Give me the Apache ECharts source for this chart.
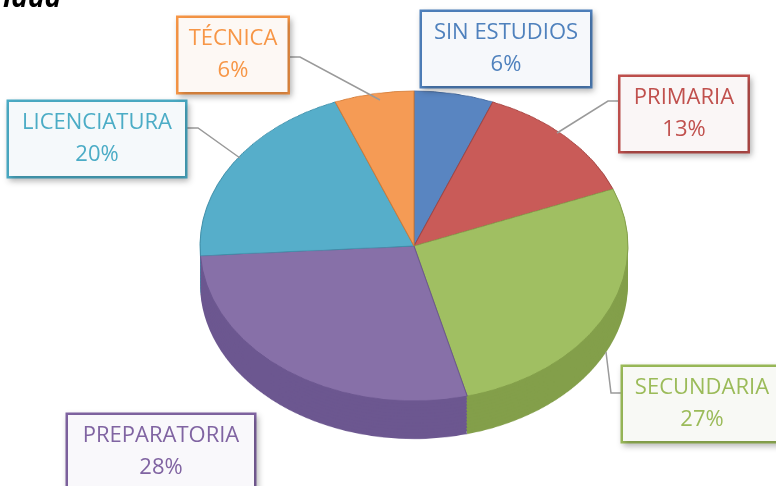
<!DOCTYPE html>
<html>
<head>
<meta charset="utf-8">
<script src="https://cdn.jsdelivr.net/npm/echarts@6/dist/echarts.min.js"></script>
<style>
  html, body { margin: 0; padding: 0; background: #fff; }
  #wrap { position: relative; width: 776px; height: 486px; overflow: hidden; }
  /* the pie is drawn round, then squashed to look tilted */
  #pie { position: absolute; left: 0; top: 0; width: 776px; height: 671px;
         transform-origin: 0 0; transform: scaleY(0.724); }
  #labels { position: absolute; left: 0; top: 0; width: 776px; height: 486px; }
</style>
</head>
<body>
<div id="wrap"><div id="pie"></div><div id="labels"></div></div>
<script>
const categories = ['SIN ESTUDIOS', 'PRIMARIA', 'SECUNDARIA', 'PREPARATORIA', 'LICENCIATURA', 'TÉCNICA'];
const percents = [6, 13, 27, 28, 20, 6];

const topColors = ['#5985c1', '#c95b58', '#a0bf62', '#8770a8', '#56aeca', '#f59b55'];
const sideColors = ['#43679c', '#a34542', '#839f4a', '#6c5790', '#3f8ea8', '#d27a35'];
const textColors = ['#4f81bd', '#c0504d', '#9bbb59', '#8064a2', '#4bacc6', '#f79646'];
const boxFills = ['#f6f8fb', '#faf6f6', '#f8f9f5', '#f9f8fb', '#f5f9fb', '#fdf8f4'];

// label box: center x, center y, width
const labelBoxes = [[506, 49, 168], [684, 114, 127], [702, 404, 158], [161, 452, 186], [97, 139, 176], [233, 55, 109]];
const leaderLines = [
  null,
  [[557, 133], [608, 101], [621, 101]],
  [[606, 352], [611, 393], [622, 393]],
  null,
  [[240, 158], [198, 128], [186, 128]],
  [[380, 100], [300, 57], [288, 57]]
];

const SCALE = 0.724;
const cx = 414, cy = 246 / SCALE, R = 214, depth = 38 / SCALE;

// --- pie body (squashed) ---
let pieChart = echarts.init(document.getElementById('pie'));
let series = [];
const layers = 12;
for (let j = 0; j < layers; j++) {
  let off = depth * (1 - j / layers);
  series.push({
    type: 'pie',
    silent: true,
    center: [cx, cy + off],
    radius: R,
    startAngle: 90,
    clockwise: true,
    label: {show: false},
    labelLine: {show: false},
    data: categories.map((name, i) => ({
      name: name,
      value: percents[i],
      itemStyle: {color: sideColors[i]}
    }))
  });
}
series.push({
  type: 'pie',
  silent: true,
  center: [cx, cy],
  radius: R,
  startAngle: 90,
  clockwise: true,
  label: {show: false},
  labelLine: {show: false},
  data: categories.map((name, i) => ({
    name: name,
    value: percents[i],
    itemStyle: {color: topColors[i], borderColor: sideColors[i], borderWidth: 1}
  }))
});
pieChart.setOption({animation: false, series: series});

// --- labels (not squashed) ---
let labelChart = echarts.init(document.getElementById('labels'));
labelChart.setOption({
  animation: false,
  title: {
    text: 'idad',
    left: -2,
    top: -20,
    textStyle: {fontFamily: 'Open Sans', fontSize: 28, fontWeight: 'bold', fontStyle: 'italic', color: '#000'}
  },
  series: [{
    type: 'pie',
    silent: true,
    center: [414, 247],
    radius: 200,
    startAngle: 90,
    avoidLabelOverlap: false,
    itemStyle: {color: 'rgba(0,0,0,0)'},
    label: {
      show: true,
      formatter: '{b}\n{c}%',
      fontFamily: 'Open Sans',
      fontSize: 22,
      lineHeight: 32,
      align: 'center',
      padding: [5, 0],
      borderWidth: 2.5,
      shadowColor: 'rgba(0,0,0,0.22)',
      shadowBlur: 6,
      shadowOffsetX: 2,
      shadowOffsetY: 3
    },
    labelLine: {show: true, lineStyle: {color: '#9a9a9a', width: 1.5}},
    labelLayout: function (p) {
      let b = labelBoxes[p.dataIndex];
      let out = {x: b[0], y: b[1], align: 'center', verticalAlign: 'middle'};
      if (leaderLines[p.dataIndex]) out.labelLinePoints = leaderLines[p.dataIndex];
      return out;
    },
    data: categories.map((name, i) => ({
      name: name,
      value: percents[i],
      label: {
        color: textColors[i],
        borderColor: textColors[i],
        backgroundColor: boxFills[i],
        width: labelBoxes[i][2]
      },
      labelLine: {show: leaderLines[i] !== null}
    }))
  }]
});
</script>
</body>
</html>
